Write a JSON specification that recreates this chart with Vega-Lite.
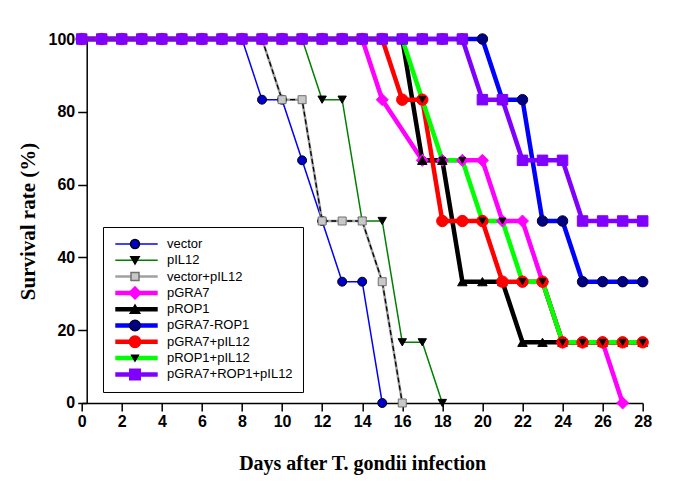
{
  "$schema": "https://vega.github.io/schema/vega-lite/v6.json",
  "width": 561,
  "height": 364,
  "autosize": {"type": "none"},
  "padding": {"left": 81.7, "top": 39, "right": 47, "bottom": 79},
  "background": "white",
  "config": {
    "view": {"stroke": null},
    "axis": {"grid": false, "domainColor": "black", "tickColor": "black", "labelColor": "black", "titleColor": "black", "domainWidth": 1.5, "tickWidth": 1.5}
  },
  "data": {"values": [
    {"series":"vector","day":0,"survival":100},{"series":"vector","day":1,"survival":100},{"series":"vector","day":2,"survival":100},{"series":"vector","day":3,"survival":100},{"series":"vector","day":4,"survival":100},{"series":"vector","day":5,"survival":100},{"series":"vector","day":6,"survival":100},{"series":"vector","day":7,"survival":100},{"series":"vector","day":8,"survival":100},{"series":"vector","day":9,"survival":83.33},{"series":"vector","day":10,"survival":83.33},{"series":"vector","day":11,"survival":66.67},{"series":"vector","day":12,"survival":50},{"series":"vector","day":13,"survival":33.33},{"series":"vector","day":14,"survival":33.33},{"series":"vector","day":15,"survival":0},
    {"series":"pIL12","day":0,"survival":100},{"series":"pIL12","day":1,"survival":100},{"series":"pIL12","day":2,"survival":100},{"series":"pIL12","day":3,"survival":100},{"series":"pIL12","day":4,"survival":100},{"series":"pIL12","day":5,"survival":100},{"series":"pIL12","day":6,"survival":100},{"series":"pIL12","day":7,"survival":100},{"series":"pIL12","day":8,"survival":100},{"series":"pIL12","day":9,"survival":100},{"series":"pIL12","day":10,"survival":100},{"series":"pIL12","day":11,"survival":100},{"series":"pIL12","day":12,"survival":83.33},{"series":"pIL12","day":13,"survival":83.33},{"series":"pIL12","day":14,"survival":50},{"series":"pIL12","day":15,"survival":50},{"series":"pIL12","day":16,"survival":16.67},{"series":"pIL12","day":17,"survival":16.67},{"series":"pIL12","day":18,"survival":0},
    {"series":"vector+pIL12","day":0,"survival":100},{"series":"vector+pIL12","day":1,"survival":100},{"series":"vector+pIL12","day":2,"survival":100},{"series":"vector+pIL12","day":3,"survival":100},{"series":"vector+pIL12","day":4,"survival":100},{"series":"vector+pIL12","day":5,"survival":100},{"series":"vector+pIL12","day":6,"survival":100},{"series":"vector+pIL12","day":7,"survival":100},{"series":"vector+pIL12","day":8,"survival":100},{"series":"vector+pIL12","day":9,"survival":100},{"series":"vector+pIL12","day":10,"survival":83.33},{"series":"vector+pIL12","day":11,"survival":83.33},{"series":"vector+pIL12","day":12,"survival":50},{"series":"vector+pIL12","day":13,"survival":50},{"series":"vector+pIL12","day":14,"survival":50},{"series":"vector+pIL12","day":15,"survival":33.33},{"series":"vector+pIL12","day":16,"survival":0},
    {"series":"pGRA7","day":0,"survival":100},{"series":"pGRA7","day":1,"survival":100},{"series":"pGRA7","day":2,"survival":100},{"series":"pGRA7","day":3,"survival":100},{"series":"pGRA7","day":4,"survival":100},{"series":"pGRA7","day":5,"survival":100},{"series":"pGRA7","day":6,"survival":100},{"series":"pGRA7","day":7,"survival":100},{"series":"pGRA7","day":8,"survival":100},{"series":"pGRA7","day":9,"survival":100},{"series":"pGRA7","day":10,"survival":100},{"series":"pGRA7","day":11,"survival":100},{"series":"pGRA7","day":12,"survival":100},{"series":"pGRA7","day":13,"survival":100},{"series":"pGRA7","day":14,"survival":100},{"series":"pGRA7","day":15,"survival":83.33},{"series":"pGRA7","day":17,"survival":66.67},{"series":"pGRA7","day":18,"survival":66.67},{"series":"pGRA7","day":19,"survival":66.67},{"series":"pGRA7","day":20,"survival":66.67},{"series":"pGRA7","day":21,"survival":50},{"series":"pGRA7","day":22,"survival":50},{"series":"pGRA7","day":23,"survival":33.33},{"series":"pGRA7","day":24,"survival":16.67},{"series":"pGRA7","day":25,"survival":16.67},{"series":"pGRA7","day":26,"survival":16.67},{"series":"pGRA7","day":27,"survival":0},
    {"series":"pROP1","day":0,"survival":100},{"series":"pROP1","day":1,"survival":100},{"series":"pROP1","day":2,"survival":100},{"series":"pROP1","day":3,"survival":100},{"series":"pROP1","day":4,"survival":100},{"series":"pROP1","day":5,"survival":100},{"series":"pROP1","day":6,"survival":100},{"series":"pROP1","day":7,"survival":100},{"series":"pROP1","day":8,"survival":100},{"series":"pROP1","day":9,"survival":100},{"series":"pROP1","day":10,"survival":100},{"series":"pROP1","day":11,"survival":100},{"series":"pROP1","day":12,"survival":100},{"series":"pROP1","day":13,"survival":100},{"series":"pROP1","day":14,"survival":100},{"series":"pROP1","day":15,"survival":100},{"series":"pROP1","day":16,"survival":100},{"series":"pROP1","day":17,"survival":66.67},{"series":"pROP1","day":18,"survival":66.67},{"series":"pROP1","day":19,"survival":33.33},{"series":"pROP1","day":20,"survival":33.33},{"series":"pROP1","day":21,"survival":33.33},{"series":"pROP1","day":22,"survival":16.67},{"series":"pROP1","day":23,"survival":16.67},{"series":"pROP1","day":24,"survival":16.67},{"series":"pROP1","day":25,"survival":16.67},{"series":"pROP1","day":26,"survival":16.67},{"series":"pROP1","day":27,"survival":16.67},{"series":"pROP1","day":28,"survival":16.67},
    {"series":"pGRA7-ROP1","day":0,"survival":100},{"series":"pGRA7-ROP1","day":1,"survival":100},{"series":"pGRA7-ROP1","day":2,"survival":100},{"series":"pGRA7-ROP1","day":3,"survival":100},{"series":"pGRA7-ROP1","day":4,"survival":100},{"series":"pGRA7-ROP1","day":5,"survival":100},{"series":"pGRA7-ROP1","day":6,"survival":100},{"series":"pGRA7-ROP1","day":7,"survival":100},{"series":"pGRA7-ROP1","day":8,"survival":100},{"series":"pGRA7-ROP1","day":9,"survival":100},{"series":"pGRA7-ROP1","day":10,"survival":100},{"series":"pGRA7-ROP1","day":11,"survival":100},{"series":"pGRA7-ROP1","day":12,"survival":100},{"series":"pGRA7-ROP1","day":13,"survival":100},{"series":"pGRA7-ROP1","day":14,"survival":100},{"series":"pGRA7-ROP1","day":15,"survival":100},{"series":"pGRA7-ROP1","day":16,"survival":100},{"series":"pGRA7-ROP1","day":17,"survival":100},{"series":"pGRA7-ROP1","day":18,"survival":100},{"series":"pGRA7-ROP1","day":19,"survival":100},{"series":"pGRA7-ROP1","day":20,"survival":100},{"series":"pGRA7-ROP1","day":21,"survival":83.33},{"series":"pGRA7-ROP1","day":22,"survival":83.33},{"series":"pGRA7-ROP1","day":23,"survival":50},{"series":"pGRA7-ROP1","day":24,"survival":50},{"series":"pGRA7-ROP1","day":25,"survival":33.33},{"series":"pGRA7-ROP1","day":26,"survival":33.33},{"series":"pGRA7-ROP1","day":27,"survival":33.33},{"series":"pGRA7-ROP1","day":28,"survival":33.33},
    {"series":"pGRA7+pIL12","day":0,"survival":100},{"series":"pGRA7+pIL12","day":1,"survival":100},{"series":"pGRA7+pIL12","day":2,"survival":100},{"series":"pGRA7+pIL12","day":3,"survival":100},{"series":"pGRA7+pIL12","day":4,"survival":100},{"series":"pGRA7+pIL12","day":5,"survival":100},{"series":"pGRA7+pIL12","day":6,"survival":100},{"series":"pGRA7+pIL12","day":7,"survival":100},{"series":"pGRA7+pIL12","day":8,"survival":100},{"series":"pGRA7+pIL12","day":9,"survival":100},{"series":"pGRA7+pIL12","day":10,"survival":100},{"series":"pGRA7+pIL12","day":11,"survival":100},{"series":"pGRA7+pIL12","day":12,"survival":100},{"series":"pGRA7+pIL12","day":13,"survival":100},{"series":"pGRA7+pIL12","day":14,"survival":100},{"series":"pGRA7+pIL12","day":15,"survival":100},{"series":"pGRA7+pIL12","day":16,"survival":83.33},{"series":"pGRA7+pIL12","day":17,"survival":83.33},{"series":"pGRA7+pIL12","day":18,"survival":50},{"series":"pGRA7+pIL12","day":19,"survival":50},{"series":"pGRA7+pIL12","day":20,"survival":50},{"series":"pGRA7+pIL12","day":21,"survival":33.33},{"series":"pGRA7+pIL12","day":22,"survival":33.33},{"series":"pGRA7+pIL12","day":23,"survival":33.33},{"series":"pGRA7+pIL12","day":24,"survival":16.67},{"series":"pGRA7+pIL12","day":25,"survival":16.67},{"series":"pGRA7+pIL12","day":26,"survival":16.67},{"series":"pGRA7+pIL12","day":27,"survival":16.67},{"series":"pGRA7+pIL12","day":28,"survival":16.67},
    {"series":"pROP1+pIL12","day":0,"survival":100},{"series":"pROP1+pIL12","day":1,"survival":100},{"series":"pROP1+pIL12","day":2,"survival":100},{"series":"pROP1+pIL12","day":3,"survival":100},{"series":"pROP1+pIL12","day":4,"survival":100},{"series":"pROP1+pIL12","day":5,"survival":100},{"series":"pROP1+pIL12","day":6,"survival":100},{"series":"pROP1+pIL12","day":7,"survival":100},{"series":"pROP1+pIL12","day":8,"survival":100},{"series":"pROP1+pIL12","day":9,"survival":100},{"series":"pROP1+pIL12","day":10,"survival":100},{"series":"pROP1+pIL12","day":11,"survival":100},{"series":"pROP1+pIL12","day":12,"survival":100},{"series":"pROP1+pIL12","day":13,"survival":100},{"series":"pROP1+pIL12","day":14,"survival":100},{"series":"pROP1+pIL12","day":15,"survival":100},{"series":"pROP1+pIL12","day":16,"survival":100},{"series":"pROP1+pIL12","day":17,"survival":83.33},{"series":"pROP1+pIL12","day":18,"survival":66.67},{"series":"pROP1+pIL12","day":19,"survival":66.67},{"series":"pROP1+pIL12","day":20,"survival":50},{"series":"pROP1+pIL12","day":21,"survival":50},{"series":"pROP1+pIL12","day":22,"survival":33.33},{"series":"pROP1+pIL12","day":23,"survival":33.33},{"series":"pROP1+pIL12","day":24,"survival":16.67},{"series":"pROP1+pIL12","day":25,"survival":16.67},{"series":"pROP1+pIL12","day":26,"survival":16.67},{"series":"pROP1+pIL12","day":27,"survival":16.67},{"series":"pROP1+pIL12","day":28,"survival":16.67},
    {"series":"pGRA7+ROP1+pIL12","day":0,"survival":100},{"series":"pGRA7+ROP1+pIL12","day":1,"survival":100},{"series":"pGRA7+ROP1+pIL12","day":2,"survival":100},{"series":"pGRA7+ROP1+pIL12","day":3,"survival":100},{"series":"pGRA7+ROP1+pIL12","day":4,"survival":100},{"series":"pGRA7+ROP1+pIL12","day":5,"survival":100},{"series":"pGRA7+ROP1+pIL12","day":6,"survival":100},{"series":"pGRA7+ROP1+pIL12","day":7,"survival":100},{"series":"pGRA7+ROP1+pIL12","day":8,"survival":100},{"series":"pGRA7+ROP1+pIL12","day":9,"survival":100},{"series":"pGRA7+ROP1+pIL12","day":10,"survival":100},{"series":"pGRA7+ROP1+pIL12","day":11,"survival":100},{"series":"pGRA7+ROP1+pIL12","day":12,"survival":100},{"series":"pGRA7+ROP1+pIL12","day":13,"survival":100},{"series":"pGRA7+ROP1+pIL12","day":14,"survival":100},{"series":"pGRA7+ROP1+pIL12","day":15,"survival":100},{"series":"pGRA7+ROP1+pIL12","day":16,"survival":100},{"series":"pGRA7+ROP1+pIL12","day":17,"survival":100},{"series":"pGRA7+ROP1+pIL12","day":18,"survival":100},{"series":"pGRA7+ROP1+pIL12","day":19,"survival":100},{"series":"pGRA7+ROP1+pIL12","day":20,"survival":83.33},{"series":"pGRA7+ROP1+pIL12","day":21,"survival":83.33},{"series":"pGRA7+ROP1+pIL12","day":22,"survival":66.67},{"series":"pGRA7+ROP1+pIL12","day":23,"survival":66.67},{"series":"pGRA7+ROP1+pIL12","day":24,"survival":66.67},{"series":"pGRA7+ROP1+pIL12","day":25,"survival":50},{"series":"pGRA7+ROP1+pIL12","day":26,"survival":50},{"series":"pGRA7+ROP1+pIL12","day":27,"survival":50},{"series":"pGRA7+ROP1+pIL12","day":28,"survival":50}
  ]},
  "encoding": {
    "x": {"field": "day", "type": "quantitative", "scale": {"domain": [0, 28], "nice": false, "zero": false},
      "axis": {"values": [0,2,4,6,8,10,12,14,16,18,20,22,24,26,28], "tickSize": 8, "labelPadding": 3, "labelFont": "Liberation Sans", "labelFontSize": 16, "labelFontWeight": "bold", "labelFlush": false,
        "title": "Days after T. gondii infection", "titleFont": "Liberation Serif", "titleFontSize": 20, "titleFontWeight": "bold", "titlePadding": 24}},
    "y": {"field": "survival", "type": "quantitative", "scale": {"domain": [0, 100], "nice": false},
      "axis": {"values": [0,20,40,60,80,100], "offset": -5, "tickSize": 9, "labelPadding": 3, "labelFont": "Liberation Sans", "labelFontSize": 16, "labelFontWeight": "bold", "labelFlush": false,
        "title": "Survival rate (%)", "titleFont": "Liberation Serif", "titleFontSize": 21, "titleFontWeight": "bold", "titlePadding": 10}}
  },
  "layer": [
    {
      "mark": {"type": "line"},
      "encoding": {
        "color": {"field": "series", "type": "nominal",
          "scale": {"domain": ["vector","pIL12","vector+pIL12","pGRA7","pROP1","pGRA7-ROP1","pGRA7+pIL12","pROP1+pIL12","pGRA7+ROP1+pIL12"],
                    "range": ["#0000ff","#007f00","#a0a0a0","#ff00ff","#000000","#0000ff","#ff0000","#00ff00","#8000ff"]},
          "legend": {"title": null, "orient": "none", "legendX": 21.3, "legendY": 188, "padding": 10, "strokeColor": "black", "fillColor": "white",
            "symbolType": "stroke", "symbolSize": 1800, "clipHeight": 14, "rowPadding": 2.3, "labelOffset": 7,
            "labelFont": "Liberation Sans", "labelFontSize": 13, "labelColor": "black"}},
        "strokeWidth": {"field": "series", "type": "nominal",
          "scale": {"type": "ordinal", "domain": ["vector","pIL12","vector+pIL12","pGRA7","pROP1","pGRA7-ROP1","pGRA7+pIL12","pROP1+pIL12","pGRA7+ROP1+pIL12"],
                    "range": [1.5,1.5,2.5,4.5,4.5,4.5,4.5,4.5,4.5]},
          "legend": {"title": null, "orient": "none", "legendX": 21.3, "legendY": 188, "padding": 10, "strokeColor": "black", "fillColor": "white",
            "symbolType": "stroke", "symbolSize": 1800, "clipHeight": 14, "rowPadding": 2.3, "labelOffset": 7,
            "labelFont": "Liberation Sans", "labelFontSize": 13, "labelColor": "black"}}
      }
    },
    {
      "transform": [{"filter": "datum.series === 'vector+pIL12' && datum.day >= 9"}],
      "mark": {"type": "line", "color": "black", "strokeWidth": 1.3, "strokeDash": [5, 3]},
      "encoding": {}
    },
    {
      "mark": {"type": "point", "filled": true, "opacity": 1, "strokeWidth": 1},
      "encoding": {
        "shape": {"field": "series", "type": "nominal", "sort": null,
          "scale": {"range": ["circle","triangle-down","square","diamond","triangle-up","circle","circle","triangle-down","square"]},
          "legend": {"title": null, "orient": "none", "legendX": 36.3, "legendY": 188, "padding": 10, "clipHeight": 14, "rowPadding": 2.3, "labelExpr": "''", "labelFontSize": 13}},
        "fill": {"field": "series", "type": "nominal", "sort": null,
          "scale": {"range": ["#0000cc","#000000","#c8c8c8","#ff00ff","#000000","#000080","#ff0000","#000000","#8000ff"]},
          "legend": {"title": null, "orient": "none", "legendX": 36.3, "legendY": 188, "padding": 10, "clipHeight": 14, "rowPadding": 2.3, "labelExpr": "''", "labelFontSize": 13}},
        "stroke": {"field": "series", "type": "nominal", "sort": null,
          "scale": {"range": ["#000000","#000000","#707070","#ff00ff","#000000","#000040","#ff0000","#000000","#8000ff"]},
          "legend": {"title": null, "orient": "none", "legendX": 36.3, "legendY": 188, "padding": 10, "clipHeight": 14, "rowPadding": 2.3, "labelExpr": "''", "labelFontSize": 13}},
        "size": {"field": "series", "type": "nominal", "sort": null,
          "scale": {"type": "ordinal", "range": [80, 70, 64, 144, 90, 110, 130, 45, 110]},
          "legend": {"title": null, "orient": "none", "legendX": 36.3, "legendY": 188, "padding": 10, "clipHeight": 14, "rowPadding": 2.3, "labelExpr": "''", "labelFontSize": 13}}
      }
    }
  ]
}
